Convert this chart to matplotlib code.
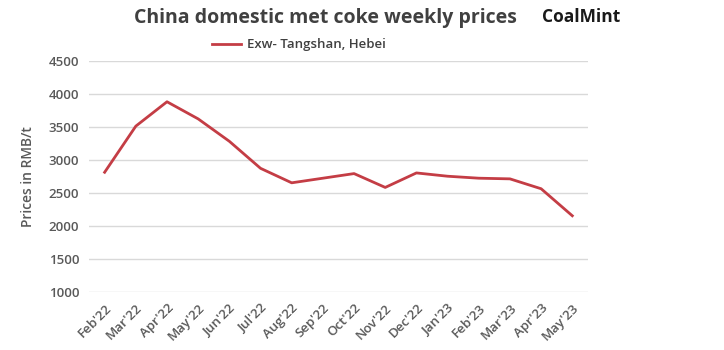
import matplotlib
matplotlib.use("Agg")
import matplotlib.pyplot as plt

months = ["Feb'22", "Mar'22", "Apr'22", "May'22", "Jun'22", "Jul'22", "Aug'22", "Sep'22",
          "Oct'22", "Nov'22", "Dec'22", "Jan'23", "Feb'23", "Mar'23", "Apr'23", "May'23"]
prices = [2810, 3510, 3880, 3620, 3280, 2870, 2650, 2720, 2790, 2580, 2800, 2750, 2720, 2710, 2560, 2150]
yticks = [1000, 1500, 2000, 2500, 3000, 3500, 4000, 4500]

plt.rcParams['font.family'] = ['Open Sans', 'DejaVu Sans']
fig = plt.figure(figsize=(7.24, 3.5), dpi=100)
ax = fig.add_axes([0.123, 0.167, 0.689, 0.659])

x = list(range(len(months)))
line, = ax.plot(x, prices, color='#c43d45', lw=2, label='Exw- Tangshan, Hebei')

ax.set_xlim(-0.5, len(months) - 0.5)
ax.set_ylim(1000, 4500)
ax.set_yticks(yticks)
ax.set_yticklabels([str(v) for v in yticks], fontsize=9.5, color='#595959', fontweight='semibold')
ax.set_xticks(x)
ax.set_xticklabels(months, rotation=45, ha='right', rotation_mode='anchor',
                   fontsize=9.5, color='#595959', fontweight='semibold')
ax.tick_params(axis='both', length=0, pad=7)
ax.grid(axis='y', color='#d9d9d9', lw=1)
ax.set_axisbelow(True)
for s in ax.spines.values():
    s.set_visible(False)

ax.set_ylabel('Prices in RMB/t', fontsize=10, color='#595959', fontweight='semibold', labelpad=10)

fig.text(0.45, 0.95, 'China domestic met coke weekly prices', ha='center', va='center',
         fontsize=14, fontweight='bold', color='#404040')
fig.text(0.803, 0.952, 'CoalMint', ha='center', va='center', fontsize=12.5,
         fontweight='bold', color='#1a1a1a')
fig.legend(handles=[line], loc='center', bbox_to_anchor=(0.413, 0.872), frameon=False,
           handlelength=2.2, handletextpad=0.5,
           labelcolor='#404040', prop={'weight': 'semibold', 'size': 9.5})

fig.savefig('out.png', dpi=100)
